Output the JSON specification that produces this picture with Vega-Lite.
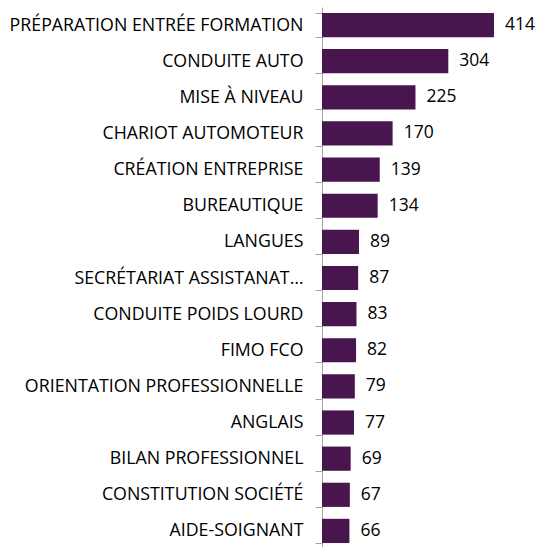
{
  "$schema": "https://vega.github.io/schema/vega-lite/v6.json",
  "autosize": "none",
  "width": 172,
  "height": 542,
  "padding": {"left": 322, "top": 7, "right": 44, "bottom": 0},
  "background": "white",
  "config": {"view": {"stroke": null}, "font": "Open Sans"},
  "data": {"values": [
    {"cat": "PRÉPARATION ENTRÉE FORMATION", "v": 414},
    {"cat": "CONDUITE AUTO", "v": 304},
    {"cat": "MISE À NIVEAU", "v": 225},
    {"cat": "CHARIOT AUTOMOTEUR", "v": 170},
    {"cat": "CRÉATION ENTREPRISE", "v": 139},
    {"cat": "BUREAUTIQUE", "v": 134},
    {"cat": "LANGUES", "v": 89},
    {"cat": "SECRÉTARIAT ASSISTANAT…", "v": 87},
    {"cat": "CONDUITE POIDS LOURD", "v": 83},
    {"cat": "FIMO FCO", "v": 82},
    {"cat": "ORIENTATION PROFESSIONNELLE", "v": 79},
    {"cat": "ANGLAIS", "v": 77},
    {"cat": "BILAN PROFESSIONNEL", "v": 69},
    {"cat": "CONSTITUTION SOCIÉTÉ", "v": 67},
    {"cat": "AIDE-SOIGNANT", "v": 66}
  ]},
  "encoding": {
    "y": {
      "field": "cat", "type": "nominal",
      "sort": {"field": "v", "order": "descending"},
      "scale": {"paddingInner": 0.33, "paddingOuter": 0.165},
      "axis": {
        "title": null, "tickBand": "extent", "tickSize": 7, "tickColor": "#a6a6a6",
        "domainColor": "#a6a6a6", "labelPadding": 12, "labelFontSize": 17.8,
        "labelColor": "#000000", "labelLimit": 400, "labelFont": "Open Sans", "labelFontWeight": "normal"
      }
    },
    "x": {
      "field": "v", "type": "quantitative",
      "scale": {"domain": [0, 414], "nice": false},
      "axis": null
    }
  },
  "layer": [
    {"mark": {"type": "bar", "color": "#48154F"}},
    {"mark": {"type": "text", "align": "left", "dx": 11, "fontSize": 17.5, "color": "#000000", "font": "Open Sans"},
     "encoding": {"text": {"field": "v", "type": "quantitative"}}}
  ]
}
